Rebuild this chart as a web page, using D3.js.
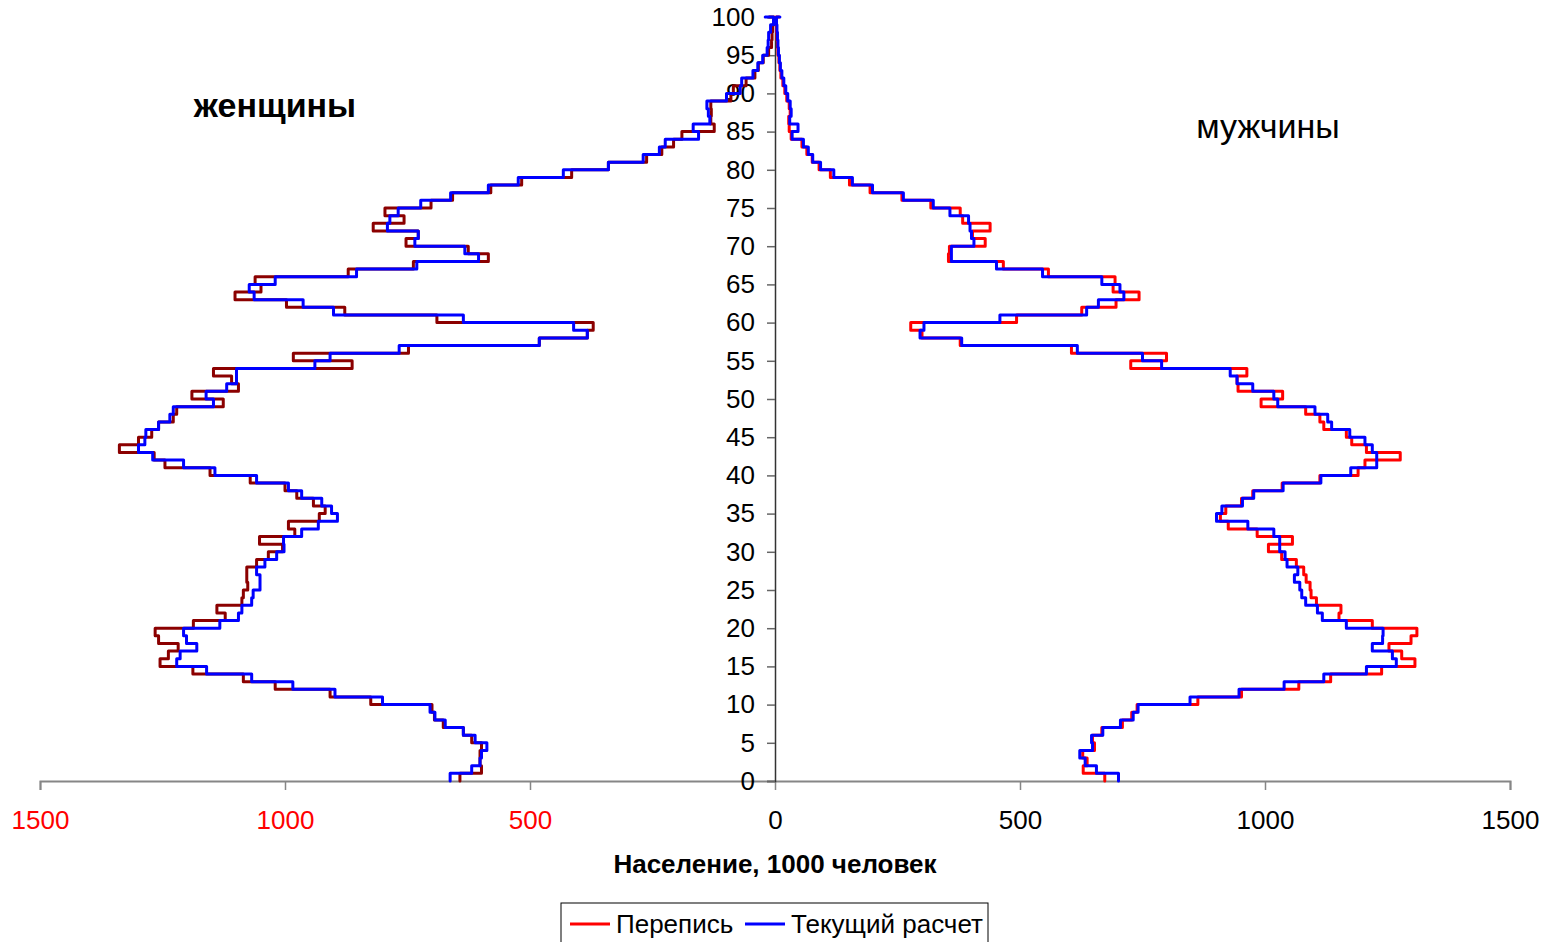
<!DOCTYPE html>
<html>
<head>
<meta charset="utf-8">
<script src="https://cdn.jsdelivr.net/npm/d3@7"></script>
<style>
  body { margin: 0; background: #fff; }
  svg { font-family: "Liberation Sans", Arial, sans-serif; }
</style>
</head>
<body>
<div class="chart"></div>
<script>
// ages 0..100, population in thousands
const ages = d3.range(0, 101);

const womenCensus = [643, 599, 602, 602, 599, 619, 636, 677, 695, 700,
  825, 908, 1020, 1085, 1188, 1255, 1238, 1218, 1258, 1265,
  1187, 1122, 1139, 1088, 1085, 1076, 1078, 1078, 1058, 1034,
  1005, 1052, 980, 993, 930, 918, 942, 976, 1000, 1071,
  1153, 1245, 1267, 1338, 1299, 1272, 1258, 1228, 1221, 1126,
  1190, 1095, 1109, 1146, 863, 983, 748, 481, 383, 371,
  690, 878, 997, 1102, 1049, 1061, 871, 738, 585, 626,
  753, 728, 820, 757, 796, 702, 658, 580, 517, 415,
  340, 262, 231, 207, 190, 124, 131, 130, 131, 90,
  85, 59, 41, 34, 24, 13, 7, 6, 5, 2, 12];

const womenEstimate = [663, 619, 602, 599, 588, 612, 636, 673, 694, 704,
  801, 898, 984, 1068, 1160, 1221, 1214, 1180, 1201, 1207,
  1133, 1095, 1088, 1068, 1065, 1051, 1051, 1058, 1041, 1017,
  1002, 1003, 966, 932, 893, 905, 925, 966, 993, 1058,
  1143, 1207, 1270, 1299, 1286, 1284, 1258, 1235, 1228, 1146,
  1161, 1119, 1099, 1099, 939, 908, 767, 481, 383, 411,
  636, 901, 963, 1063, 1073, 1020, 854, 731, 605, 633,
  735, 728, 791, 786, 769, 723, 662, 585, 524, 432,
  340, 269, 236, 224, 156, 167, 133, 136, 139, 99,
  71, 68, 45, 35, 25, 16, 14, 13, 9, 3, 20];

const menCensus = [673, 629, 637, 628, 652, 648, 667, 709, 728, 739,
  863, 952, 1069, 1134, 1238, 1306, 1279, 1253, 1298, 1310,
  1219, 1151, 1155, 1105, 1094, 1092, 1084, 1079, 1064, 1034,
  1007, 1056, 984, 925, 909, 920, 952, 975, 1035, 1112,
  1190, 1204, 1276, 1207, 1177, 1166, 1120, 1112, 1083, 992,
  1036, 945, 943, 963, 726, 799, 605, 378, 300, 277,
  493, 626, 696, 743, 690, 694, 558, 466, 354, 356,
  429, 403, 439, 383, 378, 318, 259, 194, 152, 113,
  90, 76, 65, 55, 33, 29, 28, 31, 29, 24,
  20, 16, 12, 10, 8, 6, 5, 4, 3, 2, 8];

const menEstimate = [701, 656, 633, 622, 648, 646, 669, 705, 731, 741,
  847, 947, 1039, 1120, 1207, 1268, 1260, 1219, 1240, 1241,
  1166, 1117, 1107, 1083, 1075, 1071, 1060, 1067, 1045, 1041,
  1030, 1030, 1018, 965, 901, 912, 954, 977, 1037, 1114,
  1175, 1228, 1228, 1219, 1204, 1173, 1136, 1128, 1102, 1026,
  1018, 975, 943, 929, 789, 750, 617, 381, 296, 304,
  459, 636, 660, 712, 704, 667, 546, 452, 360, 360,
  406, 401, 398, 395, 357, 323, 262, 199, 158, 120,
  93, 77, 68, 58, 35, 47, 30, 33, 31, 26,
  22, 18, 14, 11, 9, 7, 6, 5, 4, 3, 10];

const xTicks = [-1500, -1000, -500, 0, 500, 1000, 1500];
const yTicks = d3.range(0, 101, 5);

const width = 1549, height = 942;

const svg = d3.select(".chart").append("svg")
    .attr("width", width)
    .attr("height", height);

const x = d3.scaleLinear().domain([-1500, 1500]).range([40, 1510]);
const y = d3.scaleLinear().domain([0, 100]).range([781, 17]);

// x axis
const xAxis = svg.append("g")
    .attr("transform", `translate(0,${y(0)})`)
    .call(d3.axisBottom(x).tickValues(xTicks).tickSize(9).tickPadding(21)
        .tickFormat(d => Math.abs(d)));
xAxis.select(".domain").attr("stroke", "#868686").attr("stroke-width", 2);
xAxis.selectAll(".tick line").attr("stroke", "#868686").attr("stroke-width", 1.5);
xAxis.selectAll(".tick text")
    .style("font-size", "26px")
    .attr("fill", d => d < 0 ? "#ff0000" : "#000");

// y axis in the middle
const yAxis = svg.append("g")
    .attr("transform", `translate(${x(0)},0)`)
    .call(d3.axisLeft(y).tickValues(yTicks).tickSize(8).tickPadding(12));
yAxis.select(".domain").attr("stroke", "#333").attr("stroke-width", 1.5);
yAxis.selectAll(".tick line").attr("stroke", "#666").attr("stroke-width", 1.5);
yAxis.selectAll(".tick text").style("font-size", "26px").attr("fill", "#000");

// step path: each age occupies [a, a+1]
function stepPoints(values, sign) {
    let pts = [];
    values.forEach((v, i) => {
        if (i < values.length - 1) {
            pts.push([sign * v, ages[i]]);
            pts.push([sign * v, ages[i] + 1]);
        } else {
            pts.push([sign * v, ages[i]]);
        }
    });
    return pts;
}

const line = d3.line()
    .x(d => x(d[0]))
    .y(d => y(d[1]));

const series = [
    {values: womenCensus, sign: -1, color: "#8b0000"},
    {values: menCensus, sign: 1, color: "#ff0000"},
    {values: womenEstimate, sign: -1, color: "#0000ff"},
    {values: menEstimate, sign: 1, color: "#0000ff"}
];

svg.selectAll("path.series")
    .data(series)
    .enter().append("path")
    .attr("class", "series")
    .attr("d", d => line(stepPoints(d.values, d.sign)))
    .attr("fill", "none")
    .attr("stroke", d => d.color)
    .attr("stroke-width", 3)
    .attr("stroke-linejoin", "round")
    .attr("stroke-linecap", "round");

// labels
svg.append("text")
    .attr("x", 275).attr("y", 117)
    .attr("text-anchor", "middle")
    .style("font-size", "34px").style("font-weight", "bold")
    .text("женщины");

svg.append("text")
    .attr("x", 1268).attr("y", 138)
    .attr("text-anchor", "middle")
    .style("font-size", "34px")
    .text("мужчины");

svg.append("text")
    .attr("x", 775).attr("y", 873)
    .attr("text-anchor", "middle")
    .style("font-size", "26px").style("font-weight", "bold")
    .text("Население, 1000 человек");

// legend
const legend = svg.append("g");
legend.append("rect")
    .attr("x", 561).attr("y", 903)
    .attr("width", 427).attr("height", 45)
    .attr("fill", "#fff")
    .attr("stroke", "#000")
    .attr("stroke-width", 1);

const legendItems = [
    {label: "Перепись", color: "#ff0000", x: 570},
    {label: "Текущий расчет", color: "#0000ff", x: 745}
];

legendItems.forEach(item => {
    legend.append("line")
        .attr("x1", item.x).attr("x2", item.x + 40)
        .attr("y1", 924).attr("y2", 924)
        .attr("stroke", item.color)
        .attr("stroke-width", 3);
    legend.append("text")
        .attr("x", item.x + 46).attr("y", 933)
        .style("font-size", "26px")
        .text(item.label);
});
</script>
</body>
</html>
